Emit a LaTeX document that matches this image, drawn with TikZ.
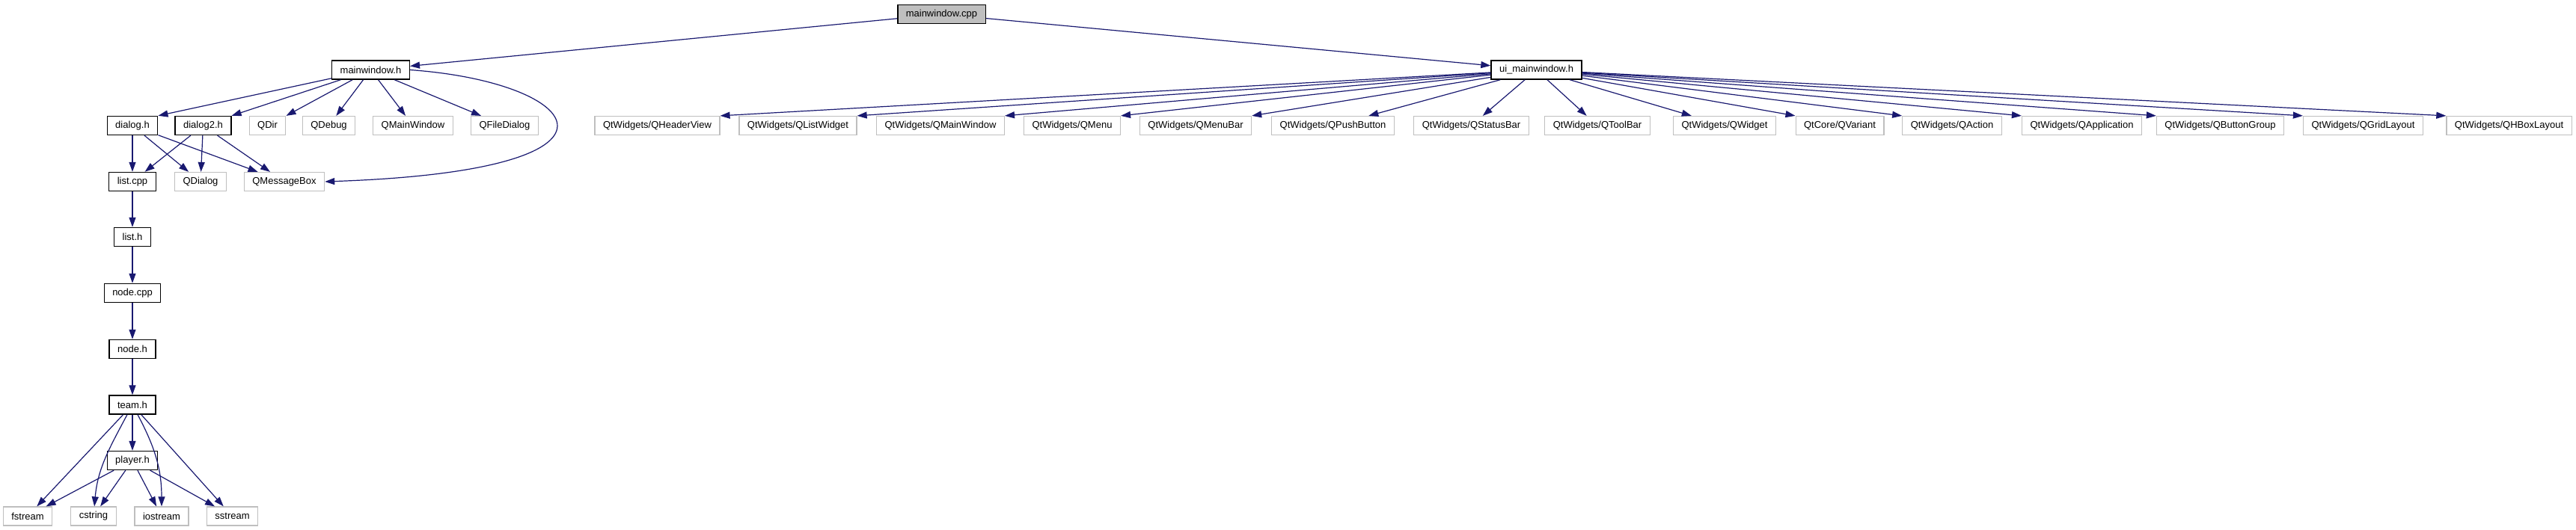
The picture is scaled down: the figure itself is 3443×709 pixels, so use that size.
\documentclass[tikz,border=0pt]{standalone}
\usepackage{fontspec}
\setmainfont{Liberation Sans}
\usetikzlibrary{arrows.meta}
\definecolor{edgeblue}{HTML}{191970}
\definecolor{extgrey}{HTML}{BFBFBF}

\begin{document}
\begin{tikzpicture}[x=1pt,y=-1pt,>={Triangle[length=13pt,width=9pt]},
  box/.style={rectangle,fill=white,minimum height=25pt,inner xsep=11pt,inner ysep=0pt,font=\fontsize{13}{15}\selectfont},
  file/.style={box,draw=black,line width=1.4pt},
  srcfile/.style={file,fill=extgrey},
  ext/.style={box,draw=extgrey,line width=1.2pt},
  inc/.style={->,draw=edgeblue,line width=1.2pt}]
\useasboundingbox (0,0) rectangle (3443,709);

% top row
\node[srcfile] (mwcpp) at (1258.5,19) {mainwindow.cpp};
\node[file] (mwh) at (495.5,93.5) {mainwindow.h};
\node[file] (uih) at (2053.5,93.5) {ui\_mainwindow.h};

% included by mainwindow.h
\node[file] (dlg) at (177,168) {dialog.h};
\node[file] (dlgtwo) at (271.5,168) {dialog2.h};
\node[ext] (qdir) at (357.5,168) {QDir};
\node[ext] (qdebug) at (439.5,168) {QDebug};
\node[ext] (qmainwin) at (552,168) {QMainWindow};
\node[ext] (qfiledlg) at (674.5,168) {QFileDialog};

% included by ui_mainwindow.h
\node[ext] (qhv) at (878.5,168) {QtWidgets/QHeaderView};
\node[ext] (qlw) at (1066.5,168) {QtWidgets/QListWidget};
\node[ext] (qmw) at (1257,168) {QtWidgets/QMainWindow};
\node[ext] (qmenu) at (1433,168) {QtWidgets/QMenu};
\node[ext] (qmenubar) at (1598,168) {QtWidgets/QMenuBar};
\node[ext] (qpush) at (1781.5,168) {QtWidgets/QPushButton};
\node[ext] (qstatus) at (1966.5,168) {QtWidgets/QStatusBar};
\node[ext] (qtool) at (2135,168) {QtWidgets/QToolBar};
\node[ext] (qwidget) at (2305,168) {QtWidgets/QWidget};
\node[ext] (qvariant) at (2459,168) {QtCore/QVariant};
\node[ext] (qaction) at (2609,168) {QtWidgets/QAction};
\node[ext] (qapp) at (2782.5,168) {QtWidgets/QApplication};
\node[ext] (qbtngrp) at (2967.5,168) {QtWidgets/QButtonGroup};
\node[ext] (qgrid) at (3158.5,168) {QtWidgets/QGridLayout};
\node[ext] (qhbox) at (3353.5,168) {QtWidgets/QHBoxLayout};

% dialog level
\node[file] (listcpp) at (177,243) {list.cpp};
\node[ext] (qdialog) at (268,243) {QDialog};
\node[ext] (qmsgbox) at (380,243) {QMessageBox};

% chain down
\node[file] (listh) at (177,317) {list.h};
\node[file] (nodecpp) at (177,392) {node.cpp};
\node[file] (nodeh) at (177,467) {node.h};
\node[file] (teamh) at (177,541.5) {team.h};
\node[file] (playerh) at (177,616) {player.h};

% std headers
\node[ext] (fstr) at (37,690.5) {fstream};
\node[ext] (cstr) at (125,690.5) {cstring};
\node[ext] (iostr) at (216,690.5) {iostream};
\node[ext] (sstr) at (310.5,690.5) {sstream};

% edges
\draw[inc] (mwcpp) -- (mwh);
\draw[inc] (mwcpp) -- (uih);

\draw[inc] (mwh) -- (dlg.north east);
\draw[inc] (mwh) -- (dlgtwo.north east);
\draw[inc] (mwh) -- (qdir.north east);
\draw[inc] (mwh) -- (qdebug);
\draw[inc] (mwh) -- (qmainwin);
\draw[inc] (mwh) -- (qfiledlg);
\draw[inc] (mwh.east) .. controls (780,110) and (875,228) .. (qmsgbox.east);

\draw[inc] (uih) -- (qhv.north east);
\draw[inc] (uih) -- (qlw.north east);
\draw[inc] (uih) -- (qmw.north east);
\draw[inc] (uih) -- (qmenu.north east);
\draw[inc] (uih) -- (qmenubar.north east);
\draw[inc] (uih) -- (qpush);
\draw[inc] (uih) -- (qstatus);
\draw[inc] (uih) -- (qtool);
\draw[inc] (uih) -- (qwidget);
\draw[inc] (uih) -- (qvariant.north west);
\draw[inc] (uih) -- (qaction.north west);
\draw[inc] (uih) -- (qapp.north west);
\draw[inc] (uih) -- (qbtngrp.north west);
\draw[inc] (uih) -- (qgrid.north west);
\draw[inc] (uih) -- (qhbox.north west);

\draw[inc] (dlg) -- (listcpp);
\draw[inc] (dlg) -- (qdialog);
\draw[inc] (dlg) -- (qmsgbox);
\draw[inc] (dlgtwo) -- (listcpp);
\draw[inc] (dlgtwo) -- (qdialog);
\draw[inc] (dlgtwo) -- (qmsgbox);

\draw[inc] (listcpp) -- (listh);
\draw[inc] (listh) -- (nodecpp);
\draw[inc] (nodecpp) -- (nodeh);
\draw[inc] (nodeh) -- (teamh);
\draw[inc] (teamh) -- (playerh);

\draw[inc] (teamh) -- (fstr);
\draw[inc] (teamh) to[out=-118,in=85] (cstr);
\draw[inc] (teamh) to[out=-62,in=90] (iostr);
\draw[inc] (teamh) -- (sstr);
\draw[inc] (playerh) -- (fstr);
\draw[inc] (playerh) -- (cstr);
\draw[inc] (playerh) -- (iostr);
\draw[inc] (playerh) -- (sstr);
\end{tikzpicture}
\end{document}
